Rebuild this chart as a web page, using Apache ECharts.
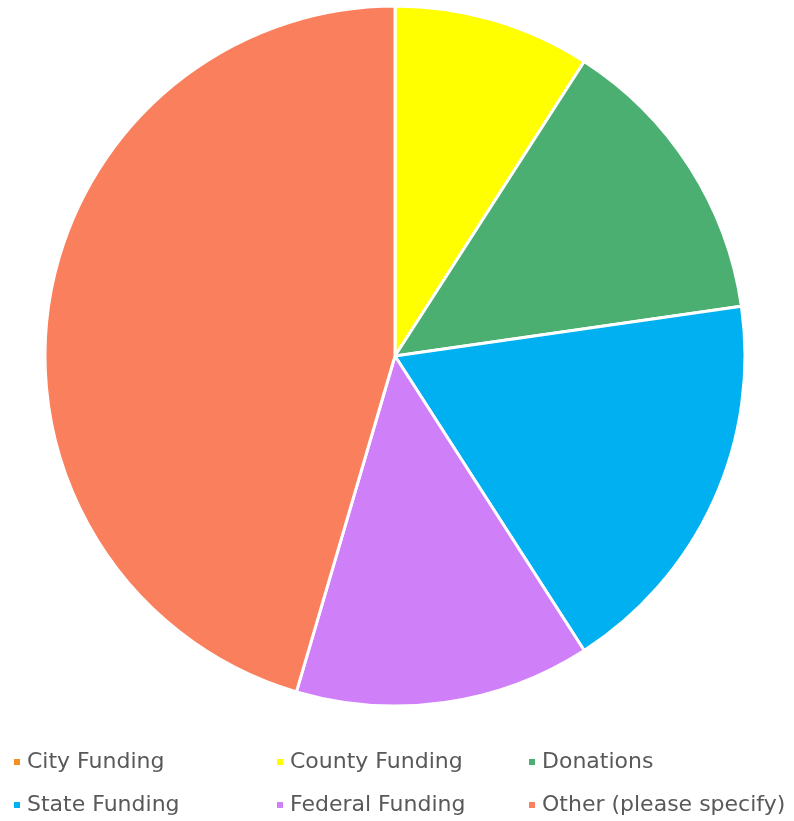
<!DOCTYPE html>
<html>
<head>
<meta charset="utf-8">
<script src="https://cdn.jsdelivr.net/npm/echarts@6/dist/echarts.min.js"></script>
<style>
  html, body { margin: 0; padding: 0; background: #fff; }
  #chart { width: 794px; height: 821px; }
</style>
</head>
<body>
<div id="chart"></div>
<script>
// funding sources, clockwise from 12 o'clock
const categories = ['City Funding', 'County Funding', 'Donations', 'State Funding', 'Federal Funding', 'Other (please specify)'];
const counts = [0, 2, 3, 4, 3, 10];
const colors = ['#f39020', '#ffff00', '#4caf72', '#00b0f0', '#cf7ff8', '#fa7f5c'];

// legend columns (3 across, 2 down)
const legendCols = [
  { left: 7, names: [categories[0], categories[3]] },
  { left: 270, names: [categories[1], categories[4]] },
  { left: 522, names: [categories[2], categories[5]] }
];

const chart = echarts.init(document.getElementById('chart'), undefined, { renderer: 'canvas' });

chart.setOption({
  animation: false,
  color: colors,
  legend: legendCols.map(c => ({
    orient: 'vertical',
    left: c.left,
    top: 746,
    itemWidth: 8,
    itemHeight: 8,
    itemGap: 21,
    icon: 'rect',
    data: c.names,
    textStyle: { fontFamily: 'DejaVu Sans', fontSize: 22, color: '#595959', padding: [0, 0, 0, 1] }
  })),
  series: [{
    type: 'pie',
    center: [395, 356],
    radius: [0, 350],
    startAngle: 90,
    clockwise: true,
    label: { show: false },
    labelLine: { show: false },
    itemStyle: { borderColor: '#fff', borderWidth: 3 },
    data: categories.map((n, i) => ({ name: n, value: counts[i] }))
  }]
});
</script>
</body>
</html>
